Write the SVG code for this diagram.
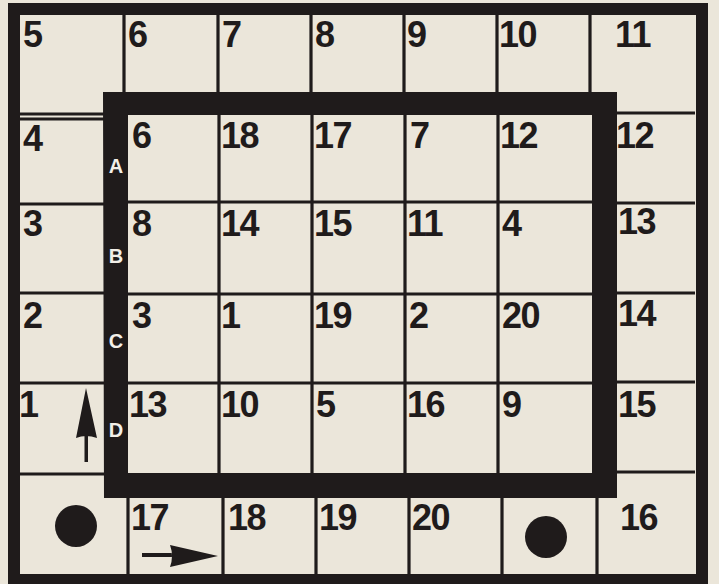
<svg xmlns="http://www.w3.org/2000/svg" width="719" height="584" viewBox="0 0 719 584">
<style>
.bg{fill:#ebe6da}
.ln{stroke:#1f1b1b;stroke-width:3.2;fill:none}
.n{font-family:"Liberation Sans",Arial,sans-serif;font-weight:bold;font-size:36px;fill:#1f1b1b;letter-spacing:-1.5px}
.l{font-family:"Liberation Sans",Arial,sans-serif;font-weight:bold;font-size:20px;fill:#f2efe8;text-anchor:middle}
.ink{fill:#1f1b1b}
</style>
<rect class="bg" x="0" y="0" width="719" height="584"/>
<g id="grid">
<path class="ln" d="M124 15V93 M218 15V93 M311 15V93 M404 15V93 M497 15V93 M590 15V93"/>
<path class="ln" d="M20 114H104 M20 119H104 M615 113H695"/>
<path class="ln" d="M219 115V473 M312 115V473 M405 115V473 M498 115V473"/>
<path class="ln" d="M128 202H592 M128 294H592 M128 383H592"/>
<path class="ln" d="M20 204H104 M20 293H104 M20 383H104 M20 474H104"/>
<path class="ln" d="M617 203H695 M617 293H695 M617 382H695 M617 472H695"/>
<path class="ln" d="M128 498V574 M223 498V574 M316 498V574 M409 498V574 M502 498V574 M597 498V574"/>
</g>
<g id="frames">
<rect x="14" y="9" width="688" height="571" fill="none" stroke="#1f1b1b" stroke-width="12"/>
<path class="ink" fill-rule="evenodd" d="M103 92H617V498H104Z M128 115V473H592V115Z"/>
</g>
<g id="row0">
<g id="c-top-5"><text class="n" x="23" y="47">5</text></g>
<g id="c-top-6"><text class="n" x="128" y="47">6</text></g>
<g id="c-top-7"><text class="n" x="222" y="47">7</text></g>
<g id="c-top-8"><text class="n" x="315" y="47">8</text></g>
<g id="c-top-9"><text class="n" x="407" y="47">9</text></g>
<g id="c-top-10"><text class="n" x="499" y="47">10</text></g>
<g id="c-top-11"><text class="n" x="615" y="47">11</text></g>
</g>
<g id="rowA">
<g id="c-left-4"><text class="n" x="23" y="151">4</text></g>
<g id="c-a-6"><text class="n" x="132" y="148">6</text></g>
<g id="c-a-18"><text class="n" x="221" y="148">18</text></g>
<g id="c-a-17"><text class="n" x="314" y="148">17</text></g>
<g id="c-a-7"><text class="n" x="410" y="148">7</text></g>
<g id="c-a-12"><text class="n" x="500" y="148">12</text></g>
<g id="c-right-12"><text class="n" x="616" y="148">12</text></g>
</g>
<g id="rowB">
<g id="c-left-3"><text class="n" x="23" y="236">3</text></g>
<g id="c-b-8"><text class="n" x="132" y="236">8</text></g>
<g id="c-b-14"><text class="n" x="221" y="236">14</text></g>
<g id="c-b-15"><text class="n" x="314" y="236">15</text></g>
<g id="c-b-11"><text class="n" x="407" y="236">11</text></g>
<g id="c-b-4"><text class="n" x="502" y="236">4</text></g>
<g id="c-right-13"><text class="n" x="618" y="234">13</text></g>
</g>
<g id="rowC">
<g id="c-left-2"><text class="n" x="23" y="328">2</text></g>
<g id="c-c-3"><text class="n" x="132" y="328">3</text></g>
<g id="c-c-1"><text class="n" x="221" y="328">1</text></g>
<g id="c-c-19"><text class="n" x="314" y="328">19</text></g>
<g id="c-c-2"><text class="n" x="409" y="328">2</text></g>
<g id="c-c-20"><text class="n" x="502" y="328">20</text></g>
<g id="c-right-14"><text class="n" x="618" y="326">14</text></g>
</g>
<g id="rowD">
<g id="c-left-1"><text class="n" x="19" y="417">1</text></g>
<g id="c-d-13"><text class="n" x="129" y="417">13</text></g>
<g id="c-d-10"><text class="n" x="221" y="417">10</text></g>
<g id="c-d-5"><text class="n" x="316" y="417">5</text></g>
<g id="c-d-16"><text class="n" x="407" y="417">16</text></g>
<g id="c-d-9"><text class="n" x="502" y="417">9</text></g>
<g id="c-right-15"><text class="n" x="618" y="417">15</text></g>
</g>
<g id="rowE">
<g id="c-bl-dot"><circle class="ink" cx="76" cy="526" r="21"/></g>
<g id="c-e-17"><text class="n" x="131" y="530">17</text></g>
<g id="c-e-18"><text class="n" x="228" y="530">18</text></g>
<g id="c-e-19"><text class="n" x="319" y="530">19</text></g>
<g id="c-e-20"><text class="n" x="412" y="530">20</text></g>
<g id="c-br-dot"><circle class="ink" cx="546" cy="537" r="21"/></g>
<g id="c-e-16"><text class="n" x="620" y="530">16</text></g>
</g>
<g id="letters">
<text class="l" x="116" y="173">A</text>
<text class="l" x="116" y="263">B</text>
<text class="l" x="116" y="348">C</text>
<text class="l" x="116" y="437">D</text>
</g>
<g id="arrows">
<path class="ink" d="M84.5 436H88V462H84.5Z M86 388L97 438Q86 434 76 438Z"/>
<path class="ink" d="M142 553H172V557H142Z M218 556L170 545Q174 556 170 567Z"/>
</g>
</svg>
